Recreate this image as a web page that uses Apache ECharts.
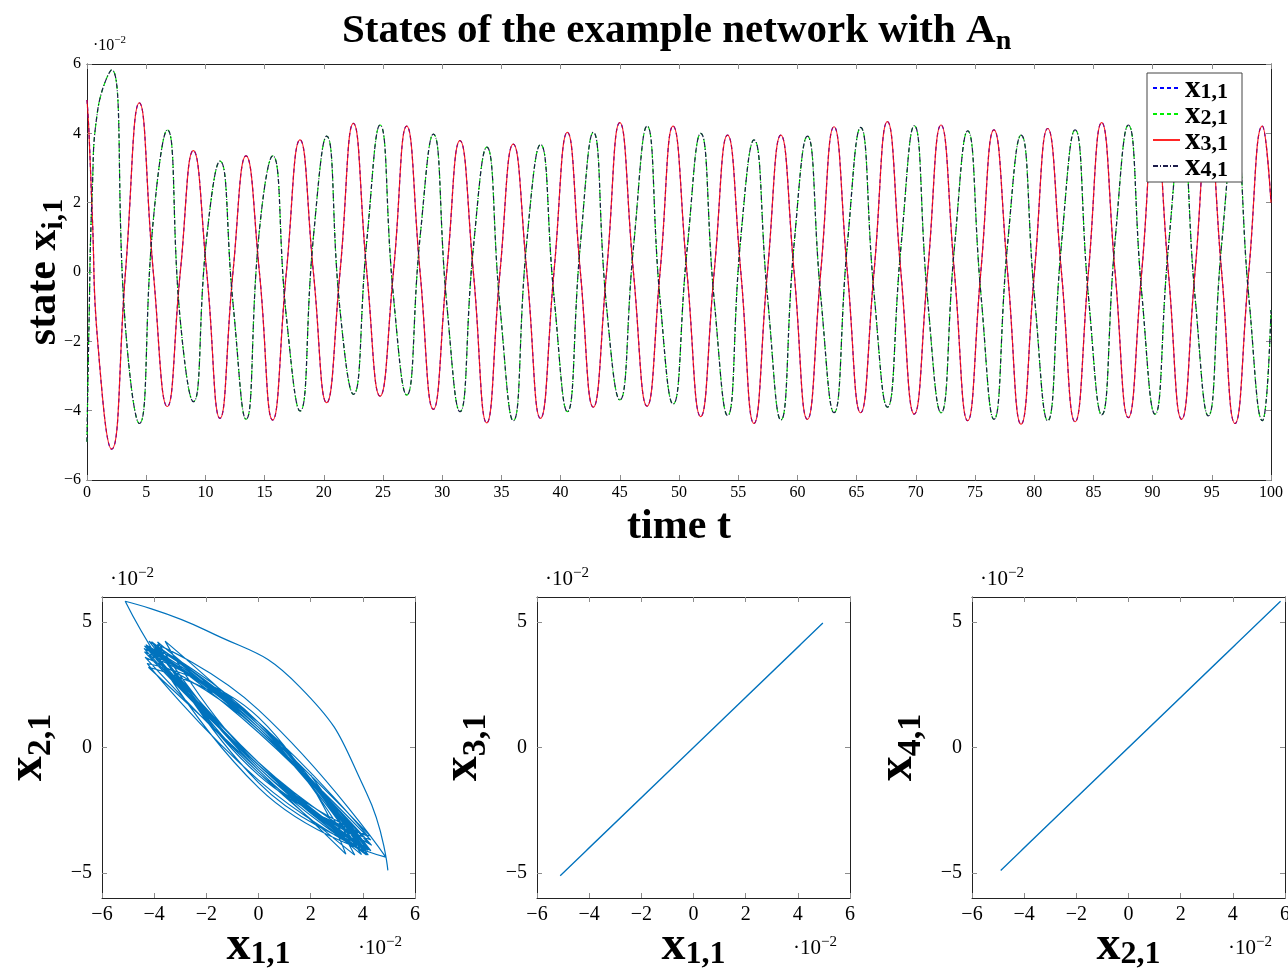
<!DOCTYPE html>
<html>
<head>
<meta charset="utf-8">
<script src="https://cdn.jsdelivr.net/npm/echarts@6.0.0/dist/echarts.min.js"></script>
<style>
html, body { margin: 0; padding: 0; background: #fff; }
#main { width: 1288px; height: 971px; }
</style>
</head>
<body>
<div id="main"></div>
<script>
// time samples: start transient, then extremes and zero crossings of x1
var tVals = [0, 0.15, 0.45, 0.9,
    2.08, 3.25, 4.42, 5.60, 6.78, 7.88, 8.98, 10.11, 11.23, 12.33, 13.43, 14.56, 15.68, 16.84, 17.99, 19.12,
    20.24, 21.37, 22.50, 23.63, 24.75, 25.88, 27.00, 28.13, 29.25, 30.38, 31.50, 32.63, 33.76, 34.88, 36.00, 37.15,
    38.30, 39.44, 40.57, 41.67, 42.76, 43.88, 45.00, 46.15, 47.30, 48.40, 49.50, 50.67, 51.83, 52.97, 54.10, 55.22,
    56.33, 57.47, 58.60, 59.72, 60.84, 61.97, 63.09, 64.22, 65.34, 66.47, 67.60, 68.74, 69.87, 71.00, 72.13, 73.26,
    74.38, 75.49, 76.60, 77.75, 78.89, 80.02, 81.14, 82.30, 83.45, 84.58, 85.70, 86.83, 87.95, 89.08, 90.20, 91.33,
    92.45, 93.58, 94.70, 95.83, 96.96, 98.12, 99.27, 100];
// values in units of 1e-2
var x1Vals = [4.96, 4.15, 1.59, -1.99,
    -5.11, 0, 4.88, 0, -3.88, 0, 3.50, 0, -4.22, 0, 3.35, 0, -4.27, 0, 3.81, 0,
    -3.77, 0, 4.29, 0, -3.58, 0, 4.21, 0, -3.96, 0, 3.79, 0, -4.35, 0, 3.69, 0,
    -4.22, 0, 4.03, 0, -3.90, 0, 4.31, 0, -3.87, 0, 4.21, 0, -4.17, 0, 3.95, 0,
    -4.37, 0, 3.95, 0, -4.25, 0, 4.19, 0, -4.06, 0, 4.34, 0, -4.10, 0, 4.24, 0,
    -4.29, 0, 4.10, 0, -4.39, 0, 4.14, 0, -4.32, 0, 4.31, 0, -4.20, 0, 4.20, 0,
    -4.25, 0, 4.15, 0, -4.37, 0, 4.21, 2.00];
var x2Vals = [-4.90, -1.83, 2.41, 4.66,
    5.83, -1.6, -4.37, 1.5, 4.10, -1.4, -3.74, 1.0, 3.20, -0.9, -4.25, 1.2, 3.35, -1.3, -4.01, 1.0,
    3.92, -1.1, -3.53, 0.9, 4.24, -0.7, -3.55, 1.0, 3.98, -0.9, -4.03, 0.7, 3.60, -1.0, -4.29, 0.9,
    3.68, -0.7, -4.03, 0.8, 4.03, -1.0, -3.69, 0.7, 4.21, -0.8, -3.81, 0.6, 4.00, -0.8, -4.14, 1.0,
    3.81, -0.7, -4.27, 0.8, 3.92, -0.7, -4.06, 0.8, 4.17, -0.6, -3.90, 0.7, 4.22, -0.8, -4.06, 0.7,
    4.07, -0.6, -4.25, 0.8, 3.95, -0.7, -4.29, 0.8, 4.10, -0.7, -4.12, 0.9, 4.24, -0.6, -4.10, 0.7,
    4.00, -0.7, -4.15, 0.8, 4.05, -0.7, -4.29, -1.10];
// x3 lies on x1 and x4 on x2 in the picture
var x3Vals = x1Vals.slice();
var x4Vals = x2Vals.slice();

var phaseTicksX = [-6, -4, -2, 0, 2, 4, 6];
var phaseTicksY = [-5, 0, 5];

var serif = 'Liberation Serif';

function pairs(a, b) {
    var out = [];
    for (var i = 0; i < a.length && i < b.length; i++) {
        out.push([a[i], b[i]]);
    }
    return out;
}
function minus(v) {
    return String(v).replace('-', '\u2212');
}
function subRich(big, small, drop) {
    return {
        m: { fontFamily: serif, fontWeight: 'bold', fontSize: big, lineHeight: big * 0.9, verticalAlign: 'top', color: '#000' },
        s: { fontFamily: serif, fontWeight: 'bold', fontSize: small, lineHeight: big * (drop || 1.1), verticalAlign: 'bottom', color: '#000' }
    };
}
function scaleText(left, top, big, small) {
    return {
        type: 'text', left: left, top: top,
        style: {
            text: '{a|\u00b710}{b|\u22122}',
            rich: {
                a: { fontFamily: serif, fontSize: big, lineHeight: big * 1.15, verticalAlign: 'bottom', fill: '#000' },
                b: { fontFamily: serif, fontSize: small, lineHeight: small, verticalAlign: 'top', fill: '#000' }
            }
        }
    };
}

var tickStyle = { inside: true, length: 5, lineStyle: { color: '#8c8c8c', width: 1 } };
var lineAx = { onZero: false, lineStyle: { color: '#222', width: 1 } };

function mirror(kind, grid, min, max, opts) {
    var ax = {
        type: 'value', gridIndex: grid, min: min, max: max,
        position: kind === 'x' ? 'top' : 'right',
        axisLine: lineAx, axisTick: tickStyle,
        axisLabel: { show: false }, splitLine: { show: false }
    };
    for (var k in opts) ax[k] = opts[k];
    return ax;
}
function phaseTick(vals) {
    return { inside: true, length: 5, lineStyle: { color: '#8c8c8c' }, customValues: vals };
}

var chart = echarts.init(document.getElementById('main'));

var xAxes = [
    {
        type: 'value', gridIndex: 0, min: 0, max: 100, interval: 5,
        axisLine: lineAx, axisTick: tickStyle, splitLine: { show: false },
        axisLabel: { fontFamily: serif, fontSize: 16, color: '#000', margin: 5 },
        name: '{m|time t}', nameLocation: 'middle', nameGap: 26, nameMoveOverlap: false,
        nameTextStyle: { rich: { m: { fontFamily: serif, fontWeight: 'bold', fontSize: 42, color: '#000' } } }
    },
    mirror('x', 0, 0, 100, { interval: 5 })
];
var yAxes = [
    {
        type: 'value', gridIndex: 0, min: -6, max: 6, interval: 2,
        axisLine: lineAx, axisTick: tickStyle, splitLine: { show: false },
        axisLabel: { fontFamily: serif, fontSize: 16, color: '#000', margin: 6, formatter: minus },
        name: '{m|state x}{s|i,1}', nameLocation: 'middle', nameGap: 18, nameRotate: 90, nameMoveOverlap: false,
        nameTextStyle: { rich: subRich(42, 30) }
    },
    mirror('y', 0, -6, 6, { interval: 2 })
];

var phaseGrids = [
    { xName: '1,1', yName: '2,1' },
    { xName: '1,1', yName: '3,1' },
    { xName: '2,1', yName: '4,1' }
];
phaseGrids.forEach(function (g, i) {
    var gi = i + 1;
    xAxes.push({
        type: 'value', gridIndex: gi, min: -6, max: 6,
        axisLine: lineAx, axisTick: phaseTick(phaseTicksX), splitLine: { show: false },
        axisLabel: { fontFamily: serif, fontSize: 20, color: '#000', margin: 7, formatter: minus, customValues: phaseTicksX },
        name: '{m|x}{s|' + g.xName + '}', nameLocation: 'middle', nameGap: 25, nameMoveOverlap: false,
        nameTextStyle: { rich: subRich(48, 32, 1.0) }
    });
    xAxes.push(mirror('x', gi, -6, 6, { axisTick: phaseTick(phaseTicksX) }));
    yAxes.push({
        type: 'value', gridIndex: gi, min: -6, max: 6,
        axisLine: lineAx, axisTick: phaseTick(phaseTicksY), splitLine: { show: false },
        axisLabel: { fontFamily: serif, fontSize: 20, color: '#000', margin: 10, formatter: minus, customValues: phaseTicksY },
        name: '{m|x}{s|' + g.yName + '}', nameLocation: 'middle', nameGap: 44, nameRotate: 90, nameMoveOverlap: false,
        nameTextStyle: { rich: subRich(50, 34) }
    });
    yAxes.push(mirror('y', gi, -6, 6, { axisTick: phaseTick(phaseTicksY) }));
});

var legendSub = { x11: '1,1', x21: '2,1', x31: '3,1', x41: '4,1' };

var option = {
    animation: false,
    backgroundColor: '#fff',
    title: {
        text: '{m|States of the example network with A}{s|n}',
        left: 337, top: 6,
        textStyle: { rich: subRich(41, 28) }
    },
    legend: {
        orient: 'vertical', left: 1147, top: 73,
        data: ['x11', 'x21', 'x31', 'x41'],
        itemWidth: 27, itemHeight: 12, itemGap: -5,
        padding: [0, 14, 0, 5],
        itemStyle: { opacity: 0 },
        backgroundColor: '#fff', borderColor: '#444', borderWidth: 1,
        formatter: function (name) { return '{m|x}{s|' + legendSub[name] + '}'; },
        textStyle: {
            rich: {
                m: { fontFamily: serif, fontWeight: 'bold', fontSize: 31, lineHeight: 16, verticalAlign: 'top', color: '#000' },
                s: { fontFamily: serif, fontWeight: 'bold', fontSize: 22, lineHeight: 30, verticalAlign: 'bottom', color: '#000' }
            }
        }
    },
    grid: [
        { left: 87, top: 64, width: 1184, height: 416, outerBoundsMode: 'none' },
        { left: 102, top: 597, width: 313, height: 301, outerBoundsMode: 'none' },
        { left: 537, top: 597, width: 313, height: 301, outerBoundsMode: 'none' },
        { left: 972, top: 597, width: 313, height: 301, outerBoundsMode: 'none' }
    ],
    xAxis: xAxes,
    yAxis: yAxes,
    graphic: [
        scaleText(93, 35, 16, 11),
        scaleText(110, 566, 21, 15),
        scaleText(358, 935, 21, 15),
        scaleText(545, 566, 21, 15),
        scaleText(793, 935, 21, 15),
        scaleText(980, 566, 21, 15),
        scaleText(1228, 935, 21, 15)
    ],
    series: [
        {
            name: 'x11', type: 'line', xAxisIndex: 0, yAxisIndex: 0, data: pairs(tVals, x1Vals),
            smooth: 0.5, showSymbol: false, symbol: 'none',
            lineStyle: { color: '#0000ff', width: 1.2, type: [4, 3] }, itemStyle: { color: '#0000ff' }
        },
        {
            name: 'x21', type: 'line', xAxisIndex: 0, yAxisIndex: 0, data: pairs(tVals, x2Vals),
            smooth: 0.5, showSymbol: false, symbol: 'none',
            lineStyle: { color: '#00ee00', width: 1.2, type: [4, 3] }, itemStyle: { color: '#00ee00' }
        },
        {
            name: 'x31', type: 'line', xAxisIndex: 0, yAxisIndex: 0, data: pairs(tVals, x3Vals),
            smooth: 0.5, showSymbol: false, symbol: 'none',
            lineStyle: { color: '#ff0000', width: 1.2, opacity: 0.85 }, itemStyle: { color: '#ff0000' }
        },
        {
            name: 'x41', type: 'line', xAxisIndex: 0, yAxisIndex: 0, data: pairs(tVals, x4Vals),
            smooth: 0.5, showSymbol: false, symbol: 'none',
            lineStyle: { color: '#1c1c4a', width: 1.2, type: [5, 2, 1, 2] }, itemStyle: { color: '#1c1c4a' }
        },
        {
            type: 'line', xAxisIndex: 2, yAxisIndex: 2, data: pairs(x1Vals, x2Vals),
            smooth: 0.5, showSymbol: false, symbol: 'none',
            lineStyle: { color: '#0072bd', width: 1.2 }
        },
        {
            type: 'line', xAxisIndex: 4, yAxisIndex: 4, data: pairs(x1Vals, x3Vals),
            smooth: 0.5, showSymbol: false, symbol: 'none',
            lineStyle: { color: '#0072bd', width: 1.3 }
        },
        {
            type: 'line', xAxisIndex: 6, yAxisIndex: 6, data: pairs(x2Vals, x4Vals),
            smooth: 0.5, showSymbol: false, symbol: 'none',
            lineStyle: { color: '#0072bd', width: 1.3 }
        }
    ]
};
chart.setOption(option);
</script>
</body>
</html>
